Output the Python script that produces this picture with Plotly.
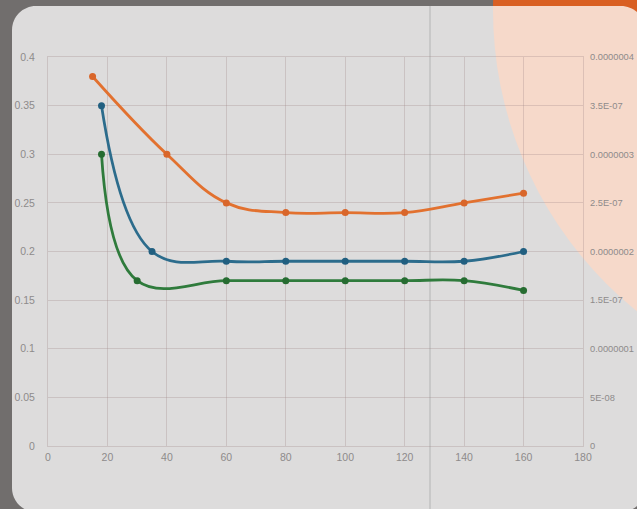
import plotly.graph_objects as go

# ---- data ----
x_orange = [15, 40, 60, 80, 100, 120, 140, 160]
y_orange = [0.38, 0.30, 0.25, 0.24, 0.24, 0.24, 0.25, 0.26]
x_blue = [18, 35, 60, 80, 100, 120, 140, 160]
y_blue = [0.35, 0.20, 0.19, 0.19, 0.19, 0.19, 0.19, 0.20]
x_green = [18, 30, 60, 80, 100, 120, 140, 160]
y_green = [0.30, 0.17, 0.17, 0.17, 0.17, 0.17, 0.17, 0.16]

x_ticks = [0, 20, 40, 60, 80, 100, 120, 140, 160, 180]
y_ticks = [0, 0.05, 0.1, 0.15, 0.2, 0.25, 0.3, 0.35, 0.4]
y_tick_labels = ["0", "0.05", "0.1", "0.15", "0.2", "0.25", "0.3", "0.35", "0.4"]
y2_ticks = [0, 5e-8, 1e-7, 1.5e-7, 2e-7, 2.5e-7, 3e-7, 3.5e-7, 4e-7]
y2_tick_labels = ["0", "5E-08", "0.0000001", "1.5E-07", "0.0000002",
                  "2.5E-07", "0.0000003", "3.5E-07", "0.0000004"]

# ---- layout geometry (pixels) ----
W, H = 637, 509
L, R, T, B = 48, 583, 57, 446


def X(px):
    return (px - L) / (R - L)


def Y(py):
    return (B - py) / (B - T)


def rounded_rect(x0, y0, x1, y1, r):
    k = 0.5523 * r
    pts = [
        f"M {X(x0 + r)},{Y(y0)}",
        f"L {X(x1 - r)},{Y(y0)}",
        f"C {X(x1 - r + k)},{Y(y0)} {X(x1)},{Y(y0 + r - k)} {X(x1)},{Y(y0 + r)}",
        f"L {X(x1)},{Y(y1 - r)}",
        f"C {X(x1)},{Y(y1 - r + k)} {X(x1 - r + k)},{Y(y1)} {X(x1 - r)},{Y(y1)}",
        f"L {X(x0 + r)},{Y(y1)}",
        f"C {X(x0 + r - k)},{Y(y1)} {X(x0)},{Y(y1 - r + k)} {X(x0)},{Y(y1 - r)}",
        f"L {X(x0)},{Y(y0 + r)}",
        f"C {X(x0)},{Y(y0 + r - k)} {X(x0 + r - k)},{Y(y0)} {X(x0 + r)},{Y(y0)}",
        "Z",
    ]
    return " ".join(pts)


cx, cy, cr = 880, 10, 387

shapes = [
    dict(type="circle", xref="paper", yref="paper",
         x0=X(cx - cr), x1=X(cx + cr), y0=Y(cy + cr), y1=Y(cy - cr),
         fillcolor="#d95f22", line=dict(width=0), layer="below"),
    dict(type="path", xref="paper", yref="paper",
         path=rounded_rect(12, 6, 645, 512, 24),
         fillcolor="rgba(255,255,255,0.76)", line=dict(width=0), layer="below"),
    dict(type="line", xref="paper", yref="paper",
         x0=X(430), x1=X(430), y0=Y(6), y1=Y(509),
         line=dict(color="rgba(120,120,120,0.4)", width=1), layer="below"),
]

fig = go.Figure()

series = [
    (x_orange, y_orange, "#e2712f", "#d9662a"),
    (x_blue, y_blue, "#2c6c8c", "#215f80"),
    (x_green, y_green, "#2f7b3c", "#266c31"),
]
for xs, ys, lc, mc in series:
    fig.add_trace(go.Scatter(
        x=xs, y=ys, mode="lines+markers",
        line=dict(color=lc, width=2.8, shape="spline", smoothing=1.15),
        marker=dict(color=mc, size=7),
        showlegend=False, hoverinfo="skip",
    ))

fig.add_trace(go.Scatter(x=[], y=[], yaxis="y2", showlegend=False))

grid_c = "rgba(160,135,135,0.3)"
tick_font = dict(family="Liberation Sans, Arial, sans-serif", size=10.5, color="#8e8b8b")
tick_font_r = dict(family="Liberation Sans, Arial, sans-serif", size=9.3, color="#8e8b8b")

fig.update_layout(
    width=W, height=H,
    margin=dict(l=L, r=W - R, t=T, b=H - B, pad=0, autoexpand=False),
    paper_bgcolor="#716e6d",
    plot_bgcolor="rgba(0,0,0,0)",
    shapes=shapes,
    xaxis=dict(range=[0, 180], tickvals=x_ticks, showgrid=True, gridcolor=grid_c,
               gridwidth=1, zeroline=False, showline=True, linecolor=grid_c,
               mirror=True, ticks="", tickfont=tick_font, ticklabelstandoff=1,
               automargin=False),
    yaxis=dict(range=[0, 0.4], tickvals=y_ticks, ticktext=y_tick_labels,
               showgrid=True, gridcolor=grid_c, gridwidth=1, zeroline=False,
               showline=True, linecolor=grid_c, mirror=True, ticks="",
               tickfont=tick_font, ticklabelstandoff=10, automargin=False),
    yaxis2=dict(range=[0, 4e-7], overlaying="y", side="right",
                tickvals=y2_ticks, ticktext=y2_tick_labels, showgrid=False,
                zeroline=False, showline=False, ticks="", tickfont=tick_font_r,
                ticklabelstandoff=6, automargin=False),
)

fig.write_html("out.html", config={"displayModeBar": False},
               post_script="document.body.style.margin='0';document.body.style.overflow='hidden';")
